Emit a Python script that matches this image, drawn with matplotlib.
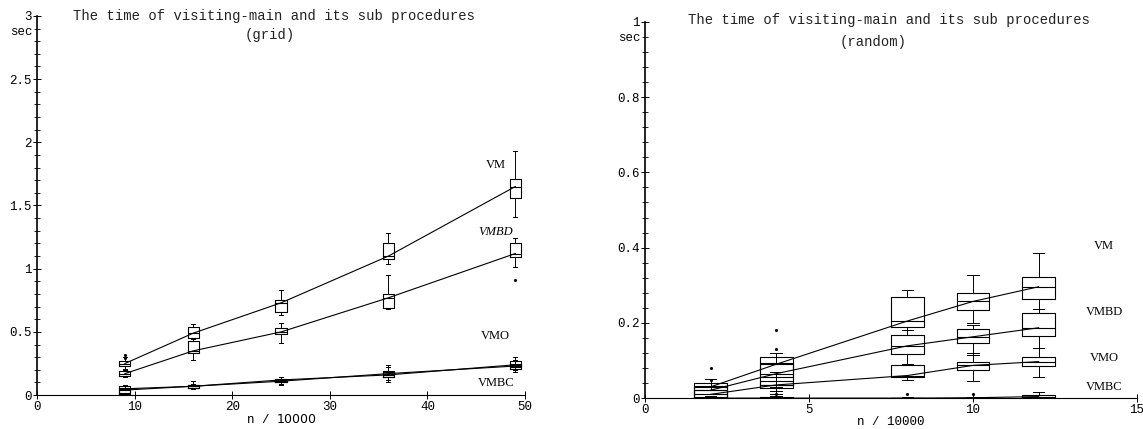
import matplotlib
matplotlib.use("Agg")
import matplotlib.pyplot as plt
from matplotlib.ticker import MultipleLocator

plt.rcParams['font.family'] = ['Liberation Mono', 'DejaVu Sans Mono']

# ---- grid instances (n / 10000) ----
grid_x = [9, 16, 25, 36, 49]
grid_series = ["VM", "VMBD", "VMO", "VMBC"]
grid_med = {"VM": [0.25, 0.49, 0.73, 1.10, 1.65],
            "VMBD": [0.17, 0.35, 0.50, 0.77, 1.12],
            "VMO": [0.05, 0.07, 0.11, 0.17, 0.23],
            "VMBC": [0.04, 0.07, 0.12, 0.16, 0.24]}
grid_q1 = {"VM": [0.23, 0.45, 0.66, 1.08, 1.56],
           "VMBD": [0.15, 0.33, 0.48, 0.69, 1.09],
           "VMO": [0.02, 0.06, 0.10, 0.14, 0.21],
           "VMBC": [0.01, 0.06, 0.10, 0.14, 0.22]}
grid_q3 = {"VM": [0.27, 0.54, 0.75, 1.20, 1.71],
           "VMBD": [0.19, 0.43, 0.53, 0.80, 1.20],
           "VMO": [0.07, 0.08, 0.13, 0.19, 0.27],
           "VMBC": [0.06, 0.08, 0.12, 0.18, 0.25]}
grid_lo = {"VM": [0.21, 0.44, 0.63, 1.04, 1.41],
           "VMBD": [0.14, 0.28, 0.41, 0.68, 1.01],
           "VMO": [0.01, 0.05, 0.08, 0.10, 0.18],
           "VMBC": [0.00, 0.05, 0.09, 0.12, 0.20]}
grid_hi = {"VM": [0.30, 0.56, 0.83, 1.28, 1.93],
           "VMBD": [0.20, 0.45, 0.57, 0.95, 1.24],
           "VMO": [0.08, 0.11, 0.14, 0.24, 0.30],
           "VMBC": [0.07, 0.09, 0.14, 0.22, 0.28]}
grid_fliers = {"VM": [[0.32, 0.29], [], [], [], []],
               "VMBD": [[], [], [], [], [0.91]],
               "VMO": [[], [], [], [], []],
               "VMBC": [[], [], [], [], []]}
grid_label_pos = {"VM": 1.82, "VMBD": 1.29, "VMO": 0.47, "VMBC": 0.095}

# ---- random instances (n / 10000) ----
rand_x = [2, 4, 8, 10, 12]
rand_series = ["VM", "VMBD", "VMO", "VMBC"]
rand_med = {"VM": [0.030, 0.090, 0.205, 0.257, 0.296],
            "VMBD": [0.021, 0.065, 0.139, 0.163, 0.187],
            "VMO": [0.010, 0.035, 0.060, 0.087, 0.097],
            "VMBC": [0.000, 0.000, 0.000, 0.001, 0.004]}
rand_q1 = {"VM": [0.000, 0.056, 0.188, 0.233, 0.263],
           "VMBD": [0.000, 0.036, 0.117, 0.146, 0.165],
           "VMO": [0.000, 0.028, 0.057, 0.076, 0.085],
           "VMBC": [0.000, 0.000, 0.000, 0.000, 0.000]}
rand_q3 = {"VM": [0.039, 0.108, 0.268, 0.279, 0.322],
           "VMBD": [0.033, 0.092, 0.168, 0.183, 0.227],
           "VMO": [0.021, 0.045, 0.088, 0.097, 0.108],
           "VMBC": [0.003, 0.002, 0.000, 0.001, 0.008]}
rand_lo = {"VM": [0.000, 0.030, 0.180, 0.200, 0.237],
           "VMBD": [0.000, 0.020, 0.090, 0.115, 0.133],
           "VMO": [0.000, 0.010, 0.048, 0.046, 0.057],
           "VMBC": [0.000, 0.000, 0.000, 0.000, 0.000]}
rand_hi = {"VM": [0.050, 0.120, 0.288, 0.328, 0.386],
           "VMBD": [0.040, 0.120, 0.180, 0.195, 0.237],
           "VMO": [0.030, 0.070, 0.090, 0.120, 0.133],
           "VMBC": [0.005, 0.005, 0.002, 0.003, 0.016]}
rand_fliers = {"VM": [[0.079], [0.18], [], [], []],
               "VMBD": [[0.049], [0.13], [], [], []],
               "VMO": [[], [0.01], [], [], []],
               "VMBC": [[], [], [0.01], [0.01], []]}
rand_label_pos = {"VM": 0.405, "VMBD": 0.23, "VMO": 0.106, "VMBC": 0.03}


def draw_panel(ax, xs, names, med, q1, q3, lo, hi, fliers, width):
    for name in names:
        stats = []
        for i in range(len(xs)):
            stats.append({"med": med[name][i], "q1": q1[name][i], "q3": q3[name][i],
                          "whislo": lo[name][i], "whishi": hi[name][i],
                          "fliers": fliers[name][i]})
        ax.bxp(stats, positions=xs, widths=width, manage_ticks=False,
               boxprops=dict(color="black", lw=0.8),
               medianprops=dict(color="black", lw=0.8),
               whiskerprops=dict(color="black", lw=0.7),
               capprops=dict(color="black", lw=0.7),
               capwidths=width * 0.35,
               flierprops=dict(marker=".", markersize=2.5, color="black",
                               markerfacecolor="black", markeredgecolor="black"))
        ax.plot(xs, med[name], color="black", lw=0.8)


def style_axes(ax, xmax, ymax, ymajor, yminor, xmajor):
    ax.set_xlim(0, xmax)
    ax.set_ylim(0, ymax)
    ax.spines["top"].set_visible(False)
    ax.spines["right"].set_visible(False)
    ax.spines["left"].set_linewidth(1.2)
    ax.spines["bottom"].set_linewidth(0.8)
    ax.yaxis.set_major_locator(MultipleLocator(ymajor))
    ax.yaxis.set_minor_locator(MultipleLocator(yminor))
    ax.xaxis.set_major_locator(MultipleLocator(xmajor))
    ax.tick_params(axis="both", which="major", direction="inout", length=6,
                   width=0.7, labelsize=9, pad=1)
    ax.tick_params(axis="y", which="minor", direction="inout", length=4, width=0.6)
    ax.patch.set_alpha(0)


fig = plt.figure(figsize=(11.43, 4.29), dpi=100)

ax1 = fig.add_axes([0.0324, 0.079, 0.427, 0.884])
draw_panel(ax1, grid_x, grid_series, grid_med, grid_q1, grid_q3, grid_lo, grid_hi,
           grid_fliers, 1.15)
style_axes(ax1, 50, 3, 0.5, 0.1, 10)
ax1.set_yticks([0, 0.5, 1, 1.5, 2, 2.5, 3], ["0", "0.5", "1", "1.5", "2", "2.5", "3"])
for name in grid_series:
    ax1.text(47, grid_label_pos[name], name, family="Liberation Serif", fontsize=9,
             style="italic" if name == "VMBD" else "normal", ha="center", va="center")
ax1.text(-0.5, 2.87, "sec", fontsize=9, ha="right", va="center")
ax1.set_xlabel("n / $\\mathit{10000}$", fontsize=9, labelpad=0)

ax2 = fig.add_axes([0.5643, 0.072, 0.4305, 0.877])
draw_panel(ax2, rand_x, rand_series, rand_med, rand_q1, rand_q3, rand_lo, rand_hi,
           rand_fliers, 1.0)
style_axes(ax2, 15, 1, 0.2, 0.04, 5)
ax2.set_yticks([0, 0.2, 0.4, 0.6, 0.8, 1], ["0", "0.2", "0.4", "0.6", "0.8", "1"])
for name in rand_series:
    ax2.text(14.0, rand_label_pos[name], name, family="Liberation Serif", fontsize=9,
             ha="center", va="center")
ax2.text(-0.15, 0.957, "sec", fontsize=9, ha="right", va="center")
ax2.set_xlabel("n / 10000", fontsize=9, labelpad=0)

fig.text(0.240, 0.963, "The time of visiting-main and its sub procedures",
         fontsize=10, ha="center", va="center", color="#222222")
fig.text(0.236, 0.918, "(grid)", fontsize=10, ha="center", va="center", color="#222222")
fig.text(0.778, 0.953, "The time of visiting-main and its sub procedures",
         fontsize=10, ha="center", va="center", color="#222222")
fig.text(0.764, 0.902, "(random)", fontsize=10, ha="center", va="center", color="#222222")

fig.savefig("out.png", dpi=100)
